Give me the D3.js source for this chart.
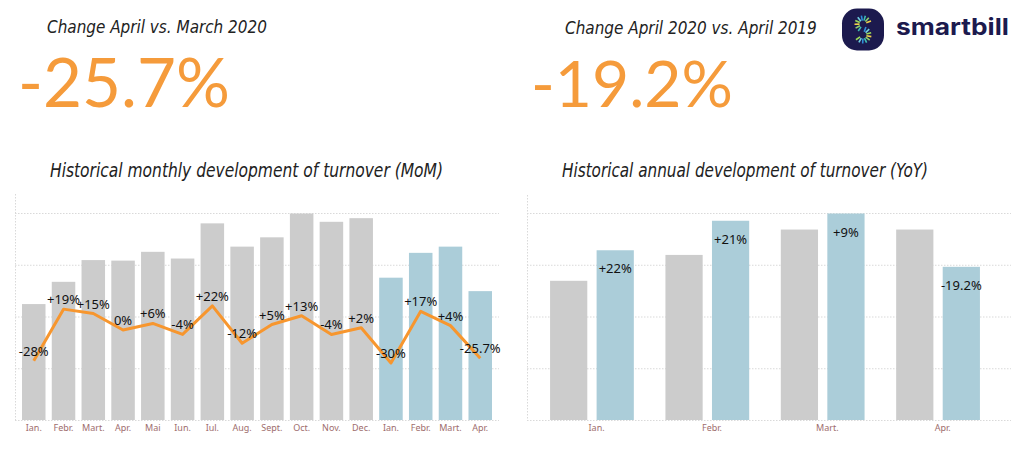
<!DOCTYPE html>
<html>
<head>
<meta charset="utf-8">
<script src="https://cdn.jsdelivr.net/npm/d3@7"></script>
<style>
  html, body { margin: 0; padding: 0; background: #fff; }
  svg { display: block; }
</style>
</head>
<body>
<svg id="chart" width="1024" height="457"></svg>
<script>
// ---------- data ----------
const monthsMoM = ["Ian.","Febr.","Mart.","Apr.","Mai","Iun.","Iul.","Aug.","Sept.","Oct.","Nov.","Dec.","Ian.","Febr.","Mart.","Apr."];
const yearsMoM = [2019,2019,2019,2019,2019,2019,2019,2019,2019,2019,2019,2019,2020,2020,2020,2020];
const turnoverMoM = [2.24,2.67,3.09,3.08,3.25,3.12,3.80,3.35,3.53,3.99,3.83,3.90,2.75,3.23,3.35,2.49];
const changeMoM = [-28,19,15,0,6,-4,22,-12,5,13,-4,2,-30,17,4,-25.7];
const changeLabelsMoM = ["-28%","+19%","+15%","0%","+6%","-4%","+22%","-12%","+5%","+13%","-4%","+2%","-30%","+17%","+4%","-25.7%"];

const monthsYoY = ["Ian.","Febr.","Mart.","Apr."];
const seriesYoY = ["2019","2020"];
const turnover2019 = [2.69,3.19,3.68,3.68];
const turnover2020 = [3.28,3.85,3.99,2.96];
const changeLabelsYoY = ["+22%","+21%","+9%","-19.2%"];

const gridTicks = [0,1,2,3,4];

const headline1 = "Change April vs. March 2020";
const headline2 = "Change April 2020 vs. April 2019";
const bigValue1 = "-25.7%";
const bigValue2 = "-19.2%";
const subtitle1 = "Historical monthly development of turnover (MoM)";
const subtitle2 = "Historical annual development of turnover (YoY)";
const brand = "smartbill";

// ---------- styles ----------
const GRAY = "#cccccc", BLUE = "#abcdd9", ORANGE = "#f7962e", BIG = "#f59b3b";
const AXIS_TXT = "#9e6d6d", GRID = "#d9d9d9";
const titleFont = "'Liberation Sans Narrow','DejaVu Sans Condensed','Liberation Sans',sans-serif";
const labelFont = "'Noto Sans','Open Sans',sans-serif";

const svg = d3.select("#chart");

// ---------- headlines: pick a font size whose natural width matches the target ----------
function fitText(x, y, txt, size, width, opts) {
  const t = svg.append("text").attr("x", x).attr("y", y).text(txt).attr("font-size", size);
  Object.entries(opts || {}).forEach(([k, v]) => t.attr(k, v));
  const w = t.node().getComputedTextLength();
  if (w > 0) {
    const r = width / w;
    // split the correction between size and a mild horizontal fit
    const s = size * Math.max(0.85, Math.min(1.15, r));
    t.attr("font-size", s);
    const w2 = t.node().getComputedTextLength();
    if (Math.abs(w2 - width) > 2) t.attr("textLength", width).attr("lengthAdjust", "spacingAndGlyphs");
  }
  return t;
}
const titleOpts = {"font-family": titleFont, "font-style": "italic", fill: "#222"};
fitText(47, 33, headline1, 19, 220, titleOpts);
fitText(565, 34, headline2, 19, 252, titleOpts);
fitText(18, 107, bigValue1, 69, 212, {"font-family": "Lato,'Noto Sans',sans-serif", fill: BIG});
fitText(531, 107, bigValue2, 69, 202, {"font-family": "Lato,'Noto Sans',sans-serif", fill: BIG});
fitText(50, 177, subtitle1, 22, 393, titleOpts);
fitText(562, 177, subtitle2, 22, 366, titleOpts);

// ---------- logo ----------
const logo = svg.append("g").attr("transform", "translate(863,29.5)");
logo.append("rect").attr("x", -21).attr("y", -21).attr("width", 42).attr("height", 42)
  .attr("rx", 15).attr("fill", "#1c1a4e");
const rayColors = ["#f2d24b","#8fd36b","#3fc1b4","#2f8fd8","#6fd0e0","#9bdc5a"];
d3.range(0, 9).forEach(i => {           // upper bowl of the S
  const a = (-20 - i * 27) * Math.PI / 180;
  logo.append("line")
    .attr("x1", Math.cos(a) * 3.5).attr("y1", -5.5 + Math.sin(a) * 3.5)
    .attr("x2", Math.cos(a) * 8.5).attr("y2", -5.5 + Math.sin(a) * 8.5)
    .attr("stroke", rayColors[i % rayColors.length]).attr("stroke-width", 1.6);
});
d3.range(0, 9).forEach(i => {           // lower bowl of the S
  const a = (-70 + i * 27) * Math.PI / 180;
  logo.append("line")
    .attr("x1", Math.cos(a) * 3.5).attr("y1", 5.5 + Math.sin(a) * 3.5)
    .attr("x2", Math.cos(a) * 8.5).attr("y2", 5.5 + Math.sin(a) * 8.5)
    .attr("stroke", rayColors[(i + 3) % rayColors.length]).attr("stroke-width", 1.6);
});
svg.append("text").attr("x", 896).attr("y", 35).text(brand)
  .attr("font-family", "Inter,'Noto Sans',sans-serif").attr("font-weight", 700)
  .attr("font-size", 23).attr("fill", "#1c1a4e")
  .attr("textLength", 113).attr("lengthAdjust", "spacingAndGlyphs");

// ---------- shared y scale ----------
const y = d3.scaleLinear().domain([0, 4]).range([420, 213]);

function grid(x0, x1, topY) {
  const g = svg.append("g");
  g.selectAll("line.h").data(gridTicks).join("line")
    .attr("x1", x0).attr("x2", x1)
    .attr("y1", d => y(d) + 0.5).attr("y2", d => y(d) + 0.5)
    .attr("stroke", GRID).attr("stroke-width", 1).attr("stroke-dasharray", "1.5,1.5");
  g.append("line").attr("x1", x0 + 0.5).attr("x2", x0 + 0.5).attr("y1", topY).attr("y2", y(0))
    .attr("stroke", GRID).attr("stroke-width", 1).attr("stroke-dasharray", "1.5,1.5");
}

// ---------- left chart (MoM) ----------
grid(15, 499, 194);
const xL = d3.scaleBand().domain(d3.range(monthsMoM.length)).range([15, 499])
  .paddingInner(0.21).paddingOuter(0.235);
const yLine = d3.scaleLinear().domain([-81.8, 106.4]).range([420, 213]);

svg.append("g").selectAll("rect").data(turnoverMoM).join("rect")
  .attr("x", (d, i) => xL(i)).attr("width", xL.bandwidth())
  .attr("y", d => y(d)).attr("height", d => y(0) - y(d))
  .attr("fill", (d, i) => yearsMoM[i] === 2020 ? BLUE : GRAY);

const line = d3.line()
  .x((d, i) => xL(i) + xL.bandwidth() / 2)
  .y(d => yLine(d));
svg.append("path").datum(changeMoM).attr("d", line)
  .attr("fill", "none").attr("stroke", ORANGE).attr("stroke-width", 3)
  .attr("stroke-linejoin", "round");

svg.append("g").selectAll("text").data(changeMoM).join("text")
  .attr("x", (d, i) => xL(i) + xL.bandwidth() / 2)
  .attr("y", d => yLine(d) - 5)
  .attr("text-anchor", "middle")
  .attr("font-family", labelFont).attr("font-size", 13).attr("fill", "#111")
  .text((d, i) => changeLabelsMoM[i]);

const axL = d3.axisBottom(xL).tickSize(0).tickPadding(0).tickFormat(i => monthsMoM[i]);
const gAxL = svg.append("g").attr("transform", "translate(0,425)").call(axL);
gAxL.select(".domain").remove();
gAxL.selectAll("text").attr("font-family", labelFont).attr("font-size", 9).attr("fill", AXIS_TXT)
  .attr("dy", "0.71em");

// ---------- right chart (YoY) ----------
grid(527, 1011, 195);
const x0 = d3.scaleBand().domain(monthsYoY).range([527, 1003]).paddingInner(0.274).paddingOuter(0.2);
const x1 = d3.scaleBand().domain(seriesYoY).range([0, x0.bandwidth()]).paddingInner(0.2);

const yoyRows = monthsYoY.map((m, i) => ({ m, v: [turnover2019[i], turnover2020[i]], lab: changeLabelsYoY[i] }));
const grp = svg.append("g").selectAll("g").data(yoyRows).join("g")
  .attr("transform", d => `translate(${x0(d.m)},0)`);
grp.selectAll("rect").data(d => d.v.map((v, j) => ({ s: seriesYoY[j], v }))).join("rect")
  .attr("x", d => x1(d.s)).attr("width", x1.bandwidth())
  .attr("y", d => y(d.v)).attr("height", d => y(0) - y(d.v))
  .attr("fill", d => d.s === "2020" ? BLUE : GRAY);
grp.append("text")
  .attr("x", x1("2020") + x1.bandwidth() / 2)
  .attr("y", d => y(d.v[1]) + 23)
  .attr("text-anchor", "middle")
  .attr("font-family", labelFont).attr("font-size", 13).attr("fill", "#111")
  .text(d => d.lab);

const gAxR = svg.append("g").attr("transform", "translate(0,425)")
  .call(d3.axisBottom(x0).tickSize(0).tickPadding(0));
gAxR.select(".domain").remove();
gAxR.selectAll(".tick").attr("transform", d => `translate(${x0(d) + x1("2020")},0)`);
gAxR.selectAll("text").attr("font-family", labelFont).attr("font-size", 9).attr("fill", AXIS_TXT)
  .attr("dy", "0.71em");
</script>
</body>
</html>
